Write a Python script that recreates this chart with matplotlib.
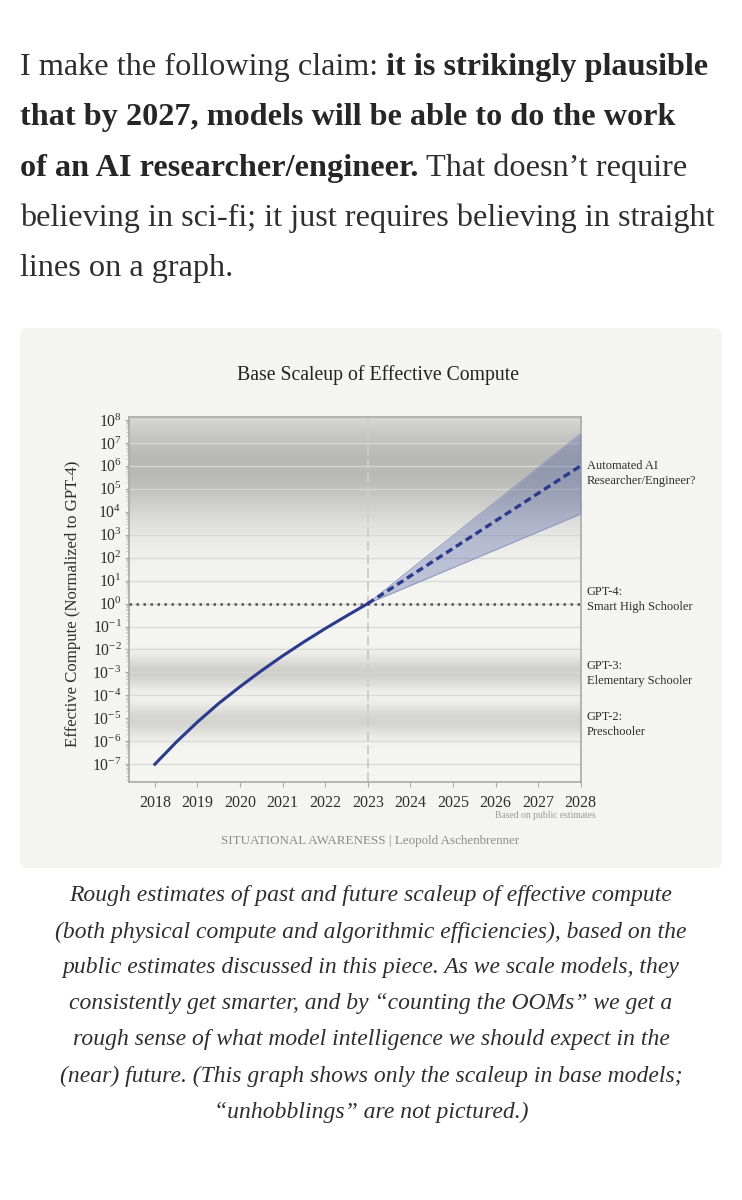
import numpy as np
import matplotlib; matplotlib.use('Agg')
import matplotlib.pyplot as plt
from matplotlib.patches import FancyBboxPatch
from matplotlib.colors import LinearSegmentedColormap
from matplotlib.ticker import FixedLocator, FixedFormatter, LogLocator, NullFormatter
from matplotlib.transforms import IdentityTransform, blended_transform_factory

plt.rcParams['font.family'] = ['Liberation Serif', 'DejaVu Serif']
plt.rcParams['mathtext.fontset'] = 'custom'
plt.rcParams['mathtext.rm'] = 'Liberation Serif'
plt.rcParams['mathtext.it'] = 'Liberation Serif:italic'
plt.rcParams['mathtext.bf'] = 'Liberation Serif:bold'

# ---- values (log10 effective compute, GPT-4 = 0) ----
hist_years = [2018, 2018.5, 2019, 2019.5, 2020, 2020.5, 2021, 2021.5, 2022, 2022.5, 2023]
hist_log = [-7.0, -6.04, -5.16, -4.35, -3.62, -2.93, -2.28, -1.67, -1.09, -0.54, 0.0]

proj_years = [2023, 2028]
proj_mid_log = [0.0, 6.0]
proj_lo_log = [0.0, 3.9]
proj_hi_log = [0.0, 7.4]

year_ticks = list(range(2018, 2029))
ytick_exps = list(range(-7, 9))

level_labels = ['Automated AI\nResearcher/Engineer?', 'GPT-4:\nSmart High Schooler',
                'GPT-3:\nElementary Schooler', 'GPT-2:\nPreschooler']
level_log = [5.67, 0.18, -3.04, -5.25]

# grey "capability" bands behind the plot (centre, width in OOMs, darkness)
shade_center = [6.0, -3.0, -5.1]
shade_width = [2.5, 0.68, 0.68]
shade_depth = [1.0, 0.62, 0.55]

para_lines = [
    [("I make the following claim:", 'normal'), ("it is strikingly plausible", 'bold')],
    [("that by 2027, models will be able to do the work", 'bold')],
    [("of an AI researcher/engineer.", 'bold'), ("That doesn\u2019t require", 'normal')],
    [("believing in sci-fi; it just requires believing in straight", 'normal')],
    [("lines on a graph.", 'normal')],
]
caption_lines = [
    "Rough estimates of past and future scaleup of effective compute",
    "(both physical compute and algorithmic efficiencies), based on the",
    "public estimates discussed in this piece. As we scale models, they",
    "consistently get smarter, and by \u201ccounting the OOMs\u201d we get a",
    "rough sense of what model intelligence we should expect in the",
    "(near) future. (This graph shows only the scaleup in base models;",
    "\u201cunhobblings\u201d are not pictured.)",
]

W, H = 742, 1200
fig = plt.figure(figsize=(W / 100, H / 100), dpi=100)
fig.patch.set_facecolor('white')
fx = lambda px: px / W
fy = lambda py: 1 - py / H

# panel behind the chart
panel = FancyBboxPatch((20, H - 868), 702, 540, boxstyle='round,pad=0,rounding_size=8',
                       transform=IdentityTransform(), fc='#f4f4f1', ec='none', zorder=-5)
fig.patches.append(panel)

# ---- paragraph text ----
renderer = fig.canvas.get_renderer()
para_size = 23.2
space_px = 0.25 * para_size * 100 / 72
for i, parts in enumerate(para_lines):
    y = fy(75 + i * 50.3)
    x = fx(20)
    for txt, weight in parts:
        t = fig.text(x, y, txt, fontsize=para_size, fontweight=weight, va='baseline',
                     color='#262626' if weight == 'bold' else '#2e2e2e')
        bb = t.get_window_extent(renderer=renderer)
        x = fx(bb.x1 + space_px)

# ---- caption ----
for i, line in enumerate(caption_lines):
    fig.text(0.5, fy(896 + i * 36), line, fontsize=17.0, style='italic',
             ha='center', va='center', color='#2e2e2e')

# ---- chart ----
x0, x1 = 2017.4, 2028
y0, y1 = -7.76, 8.14
ax = fig.add_axes([fx(129.3), fy(781.7), (580.7 - 129.3) / W, (781.7 - 416.7) / H])
ax.set_facecolor('#f4f4f1')
ax.set_yscale('log')
ax.set_xlim(x0, x1)
ax.set_ylim(10 ** y0, 10 ** y1)
ax.set_axisbelow(True)

gy = np.linspace(y0, y1, 900)
shade = np.zeros_like(gy)
for c, w, d in zip(shade_center, shade_width, shade_depth):
    shade = np.maximum(shade, d * np.exp(-((gy - c) / w) ** 2))
cmap = LinearSegmentedColormap.from_list('shade', ['#f4f4f1', '#b8b8b5'])
ax.pcolormesh([x0, x1], 10 ** gy, shade[:-1, None], cmap=cmap, vmin=0, vmax=1,
              shading='flat', zorder=0, rasterized=True)

ax.yaxis.set_major_locator(FixedLocator([10.0 ** e for e in ytick_exps]))
ax.yaxis.set_major_formatter(FixedFormatter([f'$10^{{{e}}}$' for e in ytick_exps]))
ax.yaxis.set_minor_locator(LogLocator(base=10, subs=np.arange(2, 10), numticks=40))
ax.yaxis.set_minor_formatter(NullFormatter())
ax.set_xticks(year_ticks)
ax.set_xticklabels([str(y) for y in year_ticks])
ax.grid(True, axis='y', which='major', color='#d8d8d4', lw=0.9)

for s in ax.spines.values():
    s.set_color('#a9a9a6')
    s.set_linewidth(1.2)
ax.tick_params(axis='both', which='both', color='#a9a9a6', direction='out', labelcolor='#2e2e2e')
ax.tick_params(axis='y', which='major', length=3, pad=2.5, labelsize=11.3)
ax.tick_params(axis='y', which='minor', length=2, color='#bdbdba')
ax.tick_params(axis='x', which='major', length=3.5, pad=6, labelsize=11.5)
ax.tick_params(axis='x', which='minor', length=0)

ax.axvline(2023, color='#cdcdca', lw=1.4, ls=(0, (5, 2)), zorder=1.5)
ax.axhline(1, color='#555555', lw=1.8, ls=(0, (1, 1.8)), zorder=3.5)

hist = 10 ** np.array(hist_log)
mid = 10 ** np.array(proj_mid_log)
lo = 10 ** np.array(proj_lo_log)
hi = 10 ** np.array(proj_hi_log)
ax.fill_between(proj_years, lo, hi, color='#3d4f9e', alpha=0.3, lw=0, zorder=3)
ax.plot(proj_years, hi, color='#8f99c2', lw=0.7, zorder=3)
ax.plot(proj_years, lo, color='#8f99c2', lw=0.7, zorder=3)
ax.plot(hist_years, hist, color='#2a3a8c', lw=2.2, zorder=4, solid_joinstyle='round')
ax.plot(proj_years, mid, color='#2a3a8c', lw=2.4, ls=(0, (2.2, 1.3)), zorder=5)

trans = blended_transform_factory(ax.transAxes, ax.transData)
for lab, lv in zip(level_labels, level_log):
    ax.text(1.0135, 10 ** lv, lab, transform=trans, ha='left', va='center', fontsize=9,
            color='#2e2e2e', linespacing=1.35, clip_on=False)

fig.text(fx(378), fy(375), 'Base Scaleup of Effective Compute', ha='center', va='center',
         fontsize=14.2, color='#222222')
fig.text(fx(73), fy(604), 'Effective Compute (Normalized to GPT-4)', rotation=90,
         ha='center', va='center', fontsize=12.1, color='#2e2e2e')
fig.text(fx(596), fy(816), 'Based on public estimates', ha='right', va='center',
         fontsize=6.9, color='#9a9a9a')
fig.text(fx(370), fy(841), 'SITUATIONAL AWARENESS | Leopold Aschenbrenner', ha='center',
         va='center', fontsize=9.4, color='#8a8a8a')

fig.savefig('out.png', dpi=100, facecolor='white')
